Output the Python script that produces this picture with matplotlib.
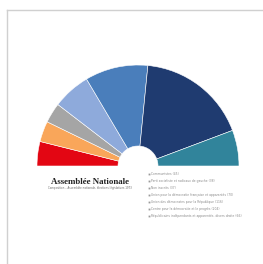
import matplotlib
matplotlib.use('Agg')
import matplotlib.pyplot as plt

# seats per group, left to right
seats = [45, 38, 37, 70, 116, 204, 66]
colors = ['#e30613', '#f9a65a', '#a5a5a5', '#8eaadb', '#4a7ebb', '#1f3b70', '#31849b']

legend_labels = ['Communistes (45)',
                 'Parti socialiste et radicaux de gauche (38)',
                 'Non inscrits (37)',
                 'Union pour la démocratie française et apparentés (70)',
                 'Union des démocrates pour la République (116)',
                 'Centre pour la démocratie et le progrès (204)',
                 'Républicains indépendants et apparentés, divers droite (66)']

fig = plt.figure(figsize=(2.63, 2.64), dpi=100)
ax = fig.add_axes([0, 0, 1, 1])

# half donut: hidden lower half
vals = seats + [sum(seats)]
cols = colors + ['none']
ax.pie(vals, colors=cols, startangle=180, counterclock=False,
       center=(138, 98), radius=101, frame=True,
       wedgeprops=dict(width=81, edgecolor='white', linewidth=0.4))
ax.patches[-1].set_edgecolor('none')
ax.set_xlim(0, 263)
ax.set_ylim(0, 264)
ax.set_aspect('auto')
ax.axis('off')

# frame lines of the card
ax.plot([7, 7], [0, 254], color='#d0d0d0', lw=1)
ax.plot([7, 263], [254, 254], color='#d0d0d0', lw=1)

ax.text(90, 82, 'Assemblée Nationale', family='Liberation Serif', weight='bold',
        fontsize=6.4, ha='center', va='center', color='#222222')
ax.text(90, 76.5, 'Composition – Assemblée nationale, élections législatives 1973',
        fontsize=1.9, ha='center', va='center', color='#666666')

y0 = 90
for i, lab in enumerate(legend_labels):
    y = y0 - i * 7
    ax.plot(148.5, y, marker='s', ms=1.3, color='#9a9a9a', mec='none')
    ax.text(151, y, lab, fontsize=2.2, va='center', ha='left', color='#8a8a8a')

fig.savefig('out.png', dpi=100, facecolor='white')
